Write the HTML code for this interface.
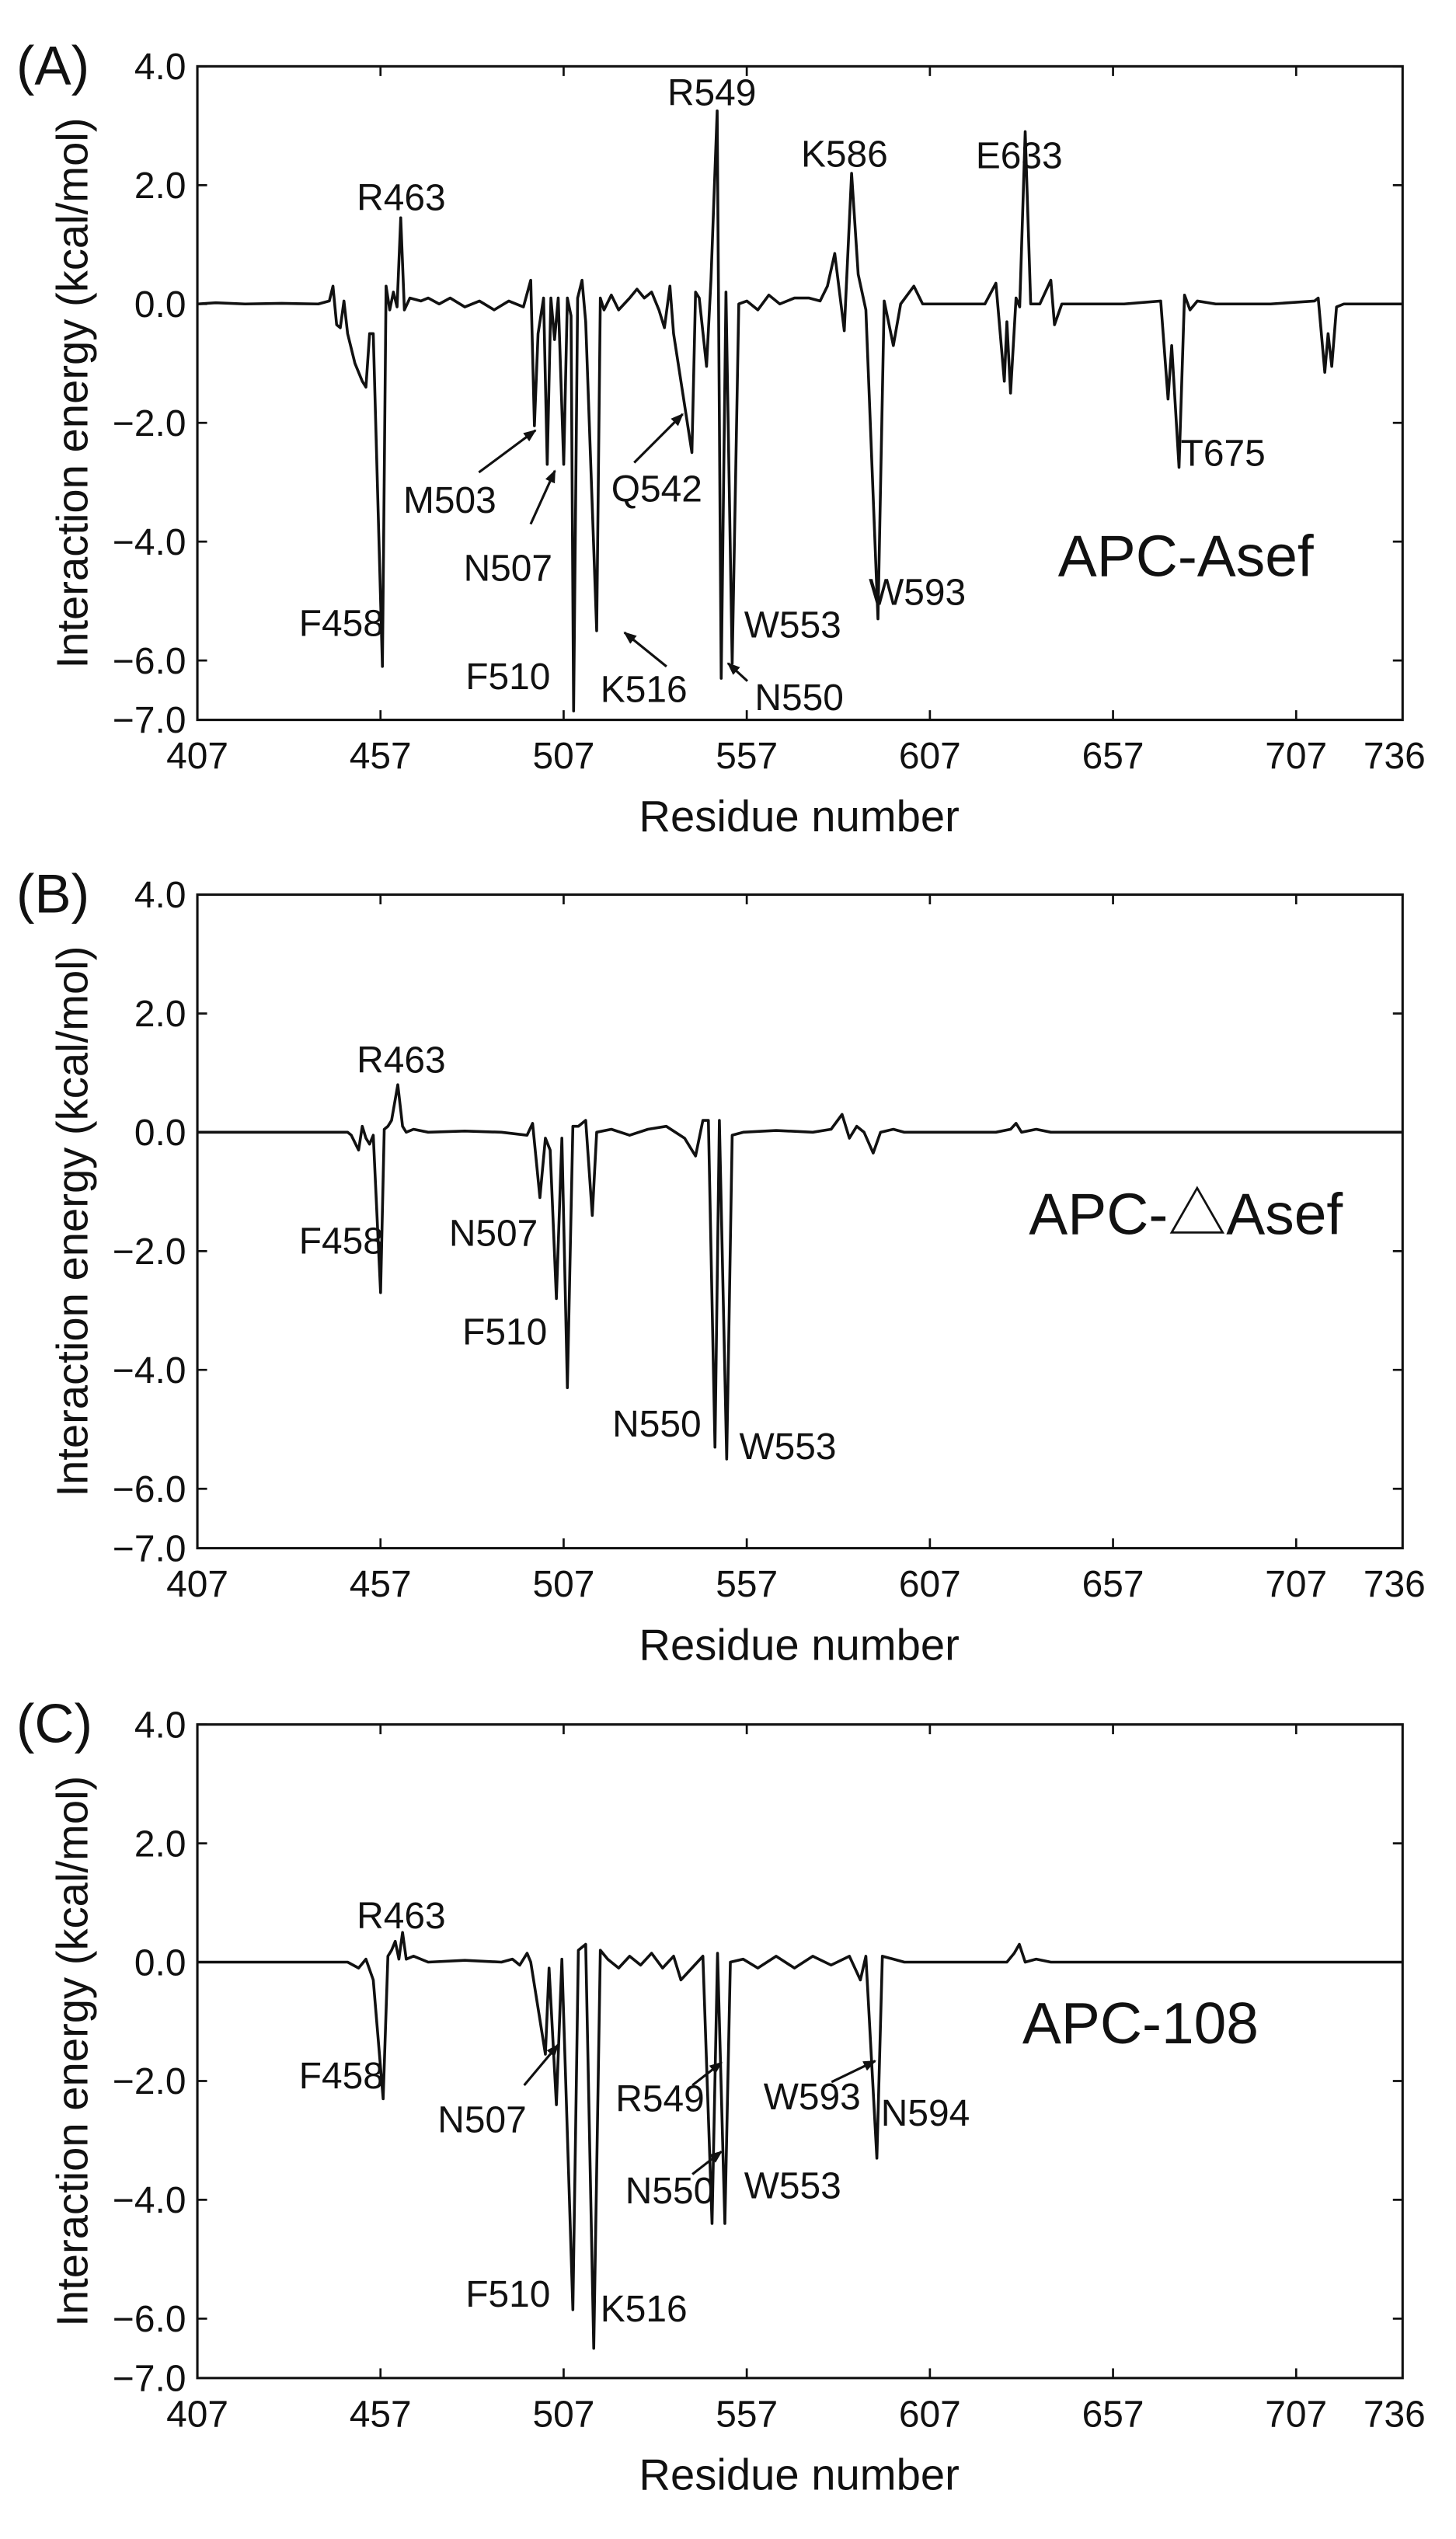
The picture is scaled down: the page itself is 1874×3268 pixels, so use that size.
<!DOCTYPE html>
<html><head><meta charset="utf-8"><style>
html,body{margin:0;padding:0;background:#fff;}
svg{display:block;}
text{font-family:"Liberation Sans",Arial,sans-serif;fill:#111;}
.t{font-size:23px;}
.l{font-size:23px;}
.ax{font-size:27px;}
</style></head><body>
<svg width="1874" height="3268" viewBox="0 0 900 1569.5" xmlns="http://www.w3.org/2000/svg">
<defs>
<marker id="ah" viewBox="0 0 10 10" refX="9" refY="5" markerWidth="8" markerHeight="8" orient="auto" markerUnits="userSpaceOnUse"><path d="M0,1 L10,5 L0,9 z" fill="#111"/></marker>
<g id="axes">
<rect x="122" y="0" width="745" height="404" fill="none" stroke="#111" stroke-width="1.5"/>
<path d="M122,0h6M122,73.5h6M122,146.9h6M122,220.4h6M122,293.8h6M122,367.3h6M867,0h-6M867,73.5h-6M867,146.9h-6M867,220.4h-6M867,293.8h-6M867,367.3h-6
M235.2,404v-6M348.4,404v-6M461.6,404v-6M574.8,404v-6M688,404v-6M801.2,404v-6M235.2,0v6M348.4,0v6M461.6,0v6M574.8,0v6M688,0v6M801.2,0v6" stroke="#111" stroke-width="1.3" fill="none"/>
<g class="t" text-anchor="end">
<text x="115" y="8">4.0</text><text x="115" y="81.5">2.0</text><text x="115" y="155">0.0</text><text x="115" y="228.4">−2.0</text><text x="115" y="301.8">−4.0</text><text x="115" y="375.3">−6.0</text><text x="115" y="412">−7.0</text>
</g>
<g class="t" text-anchor="middle">
<text x="122" y="434">407</text><text x="235.2" y="434">457</text><text x="348.4" y="434">507</text><text x="461.6" y="434">557</text><text x="574.8" y="434">607</text><text x="688" y="434">657</text><text x="801.2" y="434">707</text><text x="862" y="434">736</text>
</g>
<text class="ax" x="494" y="473" text-anchor="middle">Residue number</text>
<text class="ax" transform="translate(54,202) rotate(-90)" text-anchor="middle">Interaction energy (kcal/mol)</text>
</g>
</defs>

<!-- Panel A -->
<g transform="translate(0,41)"><use href="#axes"/></g>
<text x="10" y="52" style="font-size:34px">(A)</text>
<g transform="translate(-799.4,187.9) scale(2.264,-36.73)">
<polyline fill="none" stroke="#111" stroke-width="3.6" vector-effect="non-scaling-stroke" stroke-linejoin="round" points="407,0 412,0.02 420,0 430,0.01 440,0 443,0.05 444,0.3 445,-0.35 446,-0.4 447,0.05 448,-0.5 450,-1.0 452,-1.3 453,-1.4 454,-0.5 455,-0.5 457.5,-6.1 458.5,0.3 459.5,-0.1 460.5,0.2 461.5,-0.05 462.5,1.45 463.5,-0.1 465,0.1 468,0.05 470,0.1 473,0 476,0.1 480,-0.05 484,0.05 488,-0.1 492,0.05 496,-0.05 498,0.4 499,-2.05 500,-0.5 501.5,0.1 502.5,-2.7 503.5,0.1 504.5,-0.6 505.5,0.1 507,-2.7 508,0.1 509,-0.2 509.7,-6.85 510.8,0.1 512,0.4 513,-0.3 516,-5.5 517,0.1 518,-0.1 520,0.15 522,-0.1 525,0.1 527,0.25 529,0.1 531,0.2 533,-0.1 534.5,-0.4 536,0.3 537,-0.5 542,-2.5 543,0.2 544,0.1 546,-1.05 547.2,0.4 548.9,3.25 550,-6.3 551.3,0.2 553,-6.05 554.8,0.0 557,0.05 560,-0.1 563,0.15 566,0 570,0.1 574,0.1 577,0.05 579,0.3 581,0.85 583.6,-0.45 585.6,2.2 587.4,0.5 589.5,-0.1 592.8,-5.3 594.5,0.05 597,-0.7 599,0 602.6,0.3 605,0 610,0 615,0 622,0 625,0.35 627.3,-1.3 628,-0.3 629,-1.5 630.5,0.1 631.5,-0.05 633,2.9 634.5,0 637,0 640,0.4 641,-0.35 643,0 650,0 660,0 670,0.05 672,-1.6 673,-0.7 675,-2.75 676.5,0.15 678,-0.1 680,0.05 685,0 700,0 712,0.05 713,0.1 714.8,-1.15 715.7,-0.5 716.7,-1.05 718,-0.05 720,0 736,0"/>
</g>
<g class="l" text-anchor="middle">
<text x="248" y="130">R463</text><text x="440" y="65">R549</text><text x="522" y="103">K586</text><text x="630" y="104">E633</text>
<text x="278" y="317">M503</text><text x="314" y="359">N507</text><text x="406" y="310">Q542</text><text x="211" y="393">F458</text>
<text x="314" y="426">F510</text><text x="398" y="434">K516</text><text x="494" y="439">N550</text><text x="490" y="394">W553</text>
<text x="567" y="374">W593</text><text x="756" y="288">T675</text>
</g>
<text x="733" y="356" text-anchor="middle" style="font-size:36px">APC-Asef</text>
<g stroke="#111" stroke-width="1.5" marker-end="url(#ah)">
<line x1="296" y1="292" x2="331" y2="266"/><line x1="328" y1="324" x2="343" y2="291"/><line x1="392" y1="286" x2="422" y2="256"/><line x1="412" y1="412" x2="386" y2="391"/><line x1="462" y1="421" x2="450" y2="410"/>
</g>

<!-- Panel B -->
<g transform="translate(0,553)"><use href="#axes"/></g>
<text x="10" y="564" style="font-size:34px">(B)</text>
<g transform="translate(-799.4,699.9) scale(2.264,-36.73)">
<polyline fill="none" stroke="#111" stroke-width="3.6" vector-effect="non-scaling-stroke" stroke-linejoin="round" points="407,0 448,0 449,-0.05 451,-0.3 452,0.1 453,-0.1 454,-0.2 455,-0.05 457,-2.7 458,0.05 459,0.1 460,0.2 461.7,0.8 463,0.1 464,0 466,0.05 470,0 480,0.02 490,0 497,-0.05 498.5,0.15 500.5,-1.1 502,-0.1 503.3,-0.3 505,-2.8 506.5,-0.1 508,-4.3 509.5,0.1 511,0.1 513,0.2 514.8,-1.4 516,0 520,0.05 525,-0.05 530,0.05 535,0.1 540,-0.1 543,-0.4 545,0.2 546.5,0.2 548.3,-5.3 549.5,0.2 551.5,-5.5 553,-0.05 556,0 565,0.03 575,0 580,0.05 583,0.3 585,-0.1 587,0.1 589,0 591.5,-0.35 593.5,0 597,0.05 600,0 625,0 629,0.05 630.5,0.15 632,0 636,0.05 640,0 736,0"/>
</g>
<g class="l" text-anchor="middle">
<text x="248" y="663">R463</text><text x="211" y="775">F458</text><text x="305" y="770">N507</text><text x="312" y="831">F510</text><text x="406" y="888">N550</text><text x="487" y="902">W553</text>
</g>
<text x="733" y="763" text-anchor="middle" style="font-size:36px;font-family:'Liberation Sans','Noto Sans CJK SC',sans-serif">APC-△Asef</text>

<!-- Panel C -->
<g transform="translate(0,1066)"><use href="#axes"/></g>
<text x="10" y="1077" style="font-size:34px">(C)</text>
<g transform="translate(-799.4,1212.9) scale(2.264,-36.73)">
<polyline fill="none" stroke="#111" stroke-width="3.6" vector-effect="non-scaling-stroke" stroke-linejoin="round" points="407,0 448,0 451,-0.1 453,0.05 455,-0.3 457.7,-2.3 459,0.1 460,0.2 461,0.35 462,0.05 463,0.5 464,0.05 466,0.1 470,0 480,0.03 490,0 493,0.05 495,-0.05 497,0.15 498,0.0 502,-1.55 503,-0.1 505,-2.4 506.5,0.05 509.5,-5.85 511,0.2 513,0.3 515.2,-6.5 517,0.2 519,0.05 522,-0.1 525,0.1 528,-0.05 531,0.15 534,-0.1 537,0.1 539,-0.3 542,-0.1 545,0.1 547.5,-4.4 549,0.15 551,-4.4 552.5,0 556,0.05 560,-0.1 565,0.1 570,-0.1 575,0.1 580,-0.05 585,0.1 588,-0.3 589.5,0.1 592.5,-3.3 594,0.1 597,0.05 600,0 628,0 630,0.15 631.4,0.3 633,0 636,0.05 640,0 736,0"/>
</g>
<g class="l" text-anchor="middle">
<text x="248" y="1192">R463</text><text x="211" y="1291">F458</text><text x="298" y="1318">N507</text><text x="314" y="1426">F510</text><text x="398" y="1435">K516</text>
<text x="408" y="1305">R549</text><text x="414" y="1362">N550</text><text x="490" y="1359">W553</text><text x="502" y="1304">W593</text><text x="572" y="1314">N594</text>
</g>
<text x="705" y="1263" text-anchor="middle" style="font-size:36px">APC-108</text>
<g stroke="#111" stroke-width="1.5" marker-end="url(#ah)">
<line x1="324" y1="1289" x2="345" y2="1264"/><line x1="428" y1="1289" x2="446" y2="1275"/><line x1="428" y1="1344" x2="446" y2="1330"/><line x1="514" y1="1287" x2="541" y2="1274"/>
</g>
</svg>
</body></html>
